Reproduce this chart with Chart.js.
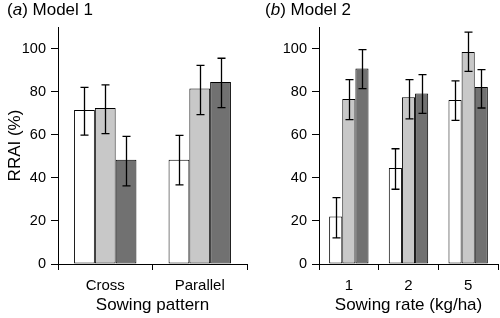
<!DOCTYPE html>
<html>
<head>
<meta charset="utf-8">
<script src="https://cdn.jsdelivr.net/npm/chart.js@4.4.1/dist/chart.umd.min.js"></script>
<style>
  body { margin: 0; background: #fff; font-family: "Liberation Sans", Arial, sans-serif; }
  .panel { position: absolute; top: 0; width: 250px; height: 318px; }
  .label { position: absolute; top: 0; font-size: 17px; line-height: 20px; color: #000; white-space: nowrap; }
</style>
</head>
<body>
<div class="panel" style="left:0"><canvas id="chartA"></canvas></div>
<div class="panel" style="left:250px"><canvas id="chartB"></canvas></div>
<div class="label" style="left:7px">(<i>a</i>) Model 1</div>
<div class="label" style="left:265px">(<i>b</i>) Model 2</div>
<script>
// panel a: sowing pattern
const patternLabels = ["Cross", "Parallel"]
const patternWhite = [71.5, 48.4]
const patternLight = [72.4, 81.4]
const patternDark = [48.4, 84.5]
const patternWhiteLow = [59.8, 36.7], patternWhiteHigh = [82.0, 59.7]
const patternLightLow = [60.5, 69.3], patternLightHigh = [83.1, 92.2]
const patternDarkLow = [36.3, 72.6], patternDarkHigh = [59.2, 95.5]

// panel b: sowing rate
const rateLabels = ["1", "2", "5"]
const rateWhite = [22.0, 44.5, 76.1]
const rateLight = [76.6, 77.4, 98.4]
const rateDark = [90.7, 79.1, 82.2]
const rateWhiteLow = [12.1, 34.7, 66.7], rateWhiteHigh = [30.8, 53.5, 85.0]
const rateLightLow = [67.0, 67.4, 89.4], rateLightHigh = [85.6, 85.6, 107.6]
const rateDarkLow = [81.4, 69.9, 72.4], rateDarkHigh = [99.5, 87.9, 90.2]

const yTicks = [0, 20, 40, 60, 80, 100]
const fills = ["#ffffff", "#c8c8c8", "#717171"]

const errorBars = {
  id: "errorBars",
  afterDatasetsDraw(chart) {
    const ctx = chart.ctx
    const y = chart.scales.y
    ctx.save()
    ctx.strokeStyle = "#000"
    ctx.lineWidth = 1.3
    chart.data.datasets.forEach((ds, i) => {
      const meta = chart.getDatasetMeta(i)
      meta.data.forEach((bar, j) => {
        const top = y.getPixelForValue(ds.high[j])
        const bot = y.getPixelForValue(ds.low[j])
        const x = Math.round(bar.x) + 0.5
        ctx.beginPath()
        ctx.moveTo(x, top); ctx.lineTo(x, bot)
        ctx.moveTo(x - 4, top); ctx.lineTo(x + 4, top)
        ctx.moveTo(x - 4, bot); ctx.lineTo(x + 4, bot)
        ctx.stroke()
      })
    })
    ctx.restore()
  }
}

const makeChart = (id, labels, values, lows, highs, xTitle, yTitle, yWidth, padRight) => {
  new Chart(document.getElementById(id), {
    type: "bar",
    data: {
      labels: labels,
      datasets: values.map((v, i) => ({
        data: v,
        low: lows[i],
        high: highs[i],
        backgroundColor: fills[i],
        borderColor: "#000",
        borderWidth: 1,
        borderSkipped: false,
        barPercentage: 1,
        categoryPercentage: 0.66,
      })),
    },
    options: {
      responsive: true,
      maintainAspectRatio: false,
      animation: false,
      layout: { padding: { top: 27, right: padRight, left: 0, bottom: 0 } },
      plugins: { legend: { display: false }, tooltip: { enabled: false } },
      scales: {
        x: {
          grid: { display: true, offset: true, drawOnChartArea: false, drawTicks: true, tickLength: 6, color: "#000", lineWidth: 1 },
          border: { display: true, color: "#000", width: 1 },
          ticks: { color: "#000", padding: 7, font: { family: "Liberation Sans", size: 15 } },
          title: { display: true, text: xTitle, color: "#000", padding: { top: 0, bottom: 2 }, font: { family: "Liberation Sans", size: 17 } },
          afterFit: (s) => { s.height = 54 },
        },
        y: {
          min: 0,
          max: 110,
          grid: { display: true, drawOnChartArea: false, drawTicks: true, tickLength: 7, color: "#000", lineWidth: 1 },
          border: { display: true, color: "#000", width: 1 },
          afterBuildTicks: (s) => { s.ticks = yTicks.map(v => ({ value: v })) },
          ticks: { color: "#000", padding: 5, font: { family: "Liberation Sans", size: 14.5 } },
          title: { display: yTitle !== "", text: yTitle, color: "#000", padding: { top: 5, bottom: 0 }, font: { family: "Liberation Sans", size: 17 } },
          afterFit: (s) => { s.width = yWidth },
        },
      },
    },
    plugins: [errorBars],
  })
}

makeChart("chartA", patternLabels,
  [patternWhite, patternLight, patternDark],
  [patternWhiteLow, patternLightLow, patternDarkLow],
  [patternWhiteHigh, patternLightHigh, patternDarkHigh],
  "Sowing pattern", "RRAI (%)", 58, 3)

makeChart("chartB", rateLabels,
  [rateWhite, rateLight, rateDark],
  [rateWhiteLow, rateLightLow, rateDarkLow],
  [rateWhiteHigh, rateLightHigh, rateDarkHigh],
  "Sowing rate (kg/ha)", "", 69, 2)
</script>
</body>
</html>
